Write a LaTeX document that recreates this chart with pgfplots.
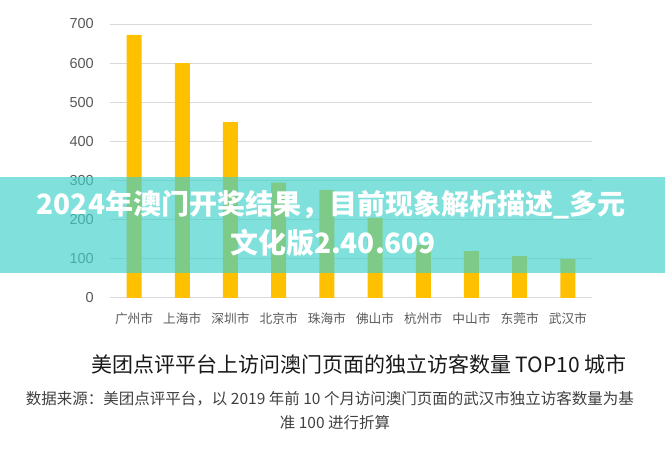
\documentclass[border=0pt]{standalone}
\usepackage{pgfplots}
\pgfplotsset{compat=1.18}
\usepackage{fontspec}
\setmainfont{Liberation Sans}
\newfontfamily\cjk{Noto Sans CJK SC}
\definecolor{baryellow}{RGB}{255,192,0}
\definecolor{bandteal}{RGB}{66,209,203}
\definecolor{ticktext}{RGB}{89,89,89}
\definecolor{gridc}{RGB}{217,217,217}
\begin{document}
\begin{tikzpicture}[x=1pt,y=1pt]
\path[use as bounding box] (0,0) rectangle (665,450);
\begin{axis}[
  at={(110pt,152pt)}, anchor=south west,
  scale only axis, width=482pt, height=274pt,
  xmin=-0.5, xmax=9.5, ymin=0, ymax=700,
  ybar, bar width=15pt,
  axis line style={draw=none},
  major tick length=0pt,
  ytick={0,100,...,700},
  ymajorgrids, grid style={gridc, line width=1pt},
  xtick={0,...,9},
  xticklabels={广州市,上海市,深圳市,北京市,珠海市,佛山市,杭州市,中山市,东莞市,武汉市},
  xticklabel style={font=\cjk\fontsize{12.7}{14}\selectfont, text=ticktext, anchor=center, yshift=-21pt, inner sep=0pt},
  yticklabel style={font=\fontsize{14.5}{16}\selectfont, text=ticktext, anchor=east, inner sep=0pt, xshift=-16pt},
  /pgf/number format/assume math mode=true,
]
\addplot[fill=baryellow, draw=none] coordinates {(0,672) (1,600) (2,449) (3,295) (4,276) (5,205) (6,135) (7,120) (8,107) (9,100)};
\end{axis}
\fill[bandteal, opacity=0.68] (0,177) rectangle (665,273);
\node[text=white, font=\cjk\bfseries\fontsize{28}{34}\selectfont, inner sep=0pt] at (331,245) {2024年澳门开奖结果，目前现象解析描述\_多元};
\node[text=white, font=\cjk\bfseries\fontsize{28}{34}\selectfont, inner sep=0pt] at (333,207) {文化版2.40.609};
\node[text=black!90, font=\cjk\fontsize{21}{24}\selectfont, inner sep=0pt] at (359,86) {美团点评平台上访问澳门页面的独立访客数量 TOP10 城市};
\node[text=black!75, font=\cjk\fontsize{15.5}{18}\selectfont, inner sep=0pt] at (330,51) {数据来源：美团点评平台，以 2019 年前 10 个月访问澳门页面的武汉市独立访客数量为基};
\node[text=black!75, font=\cjk\fontsize{15.5}{18}\selectfont, inner sep=0pt] at (335,27) {准 100 进行折算};
\end{tikzpicture}
\end{document}
